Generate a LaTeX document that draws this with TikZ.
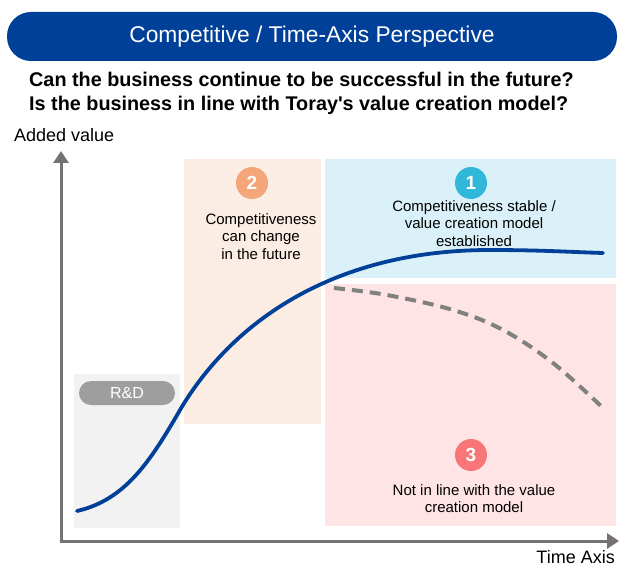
\documentclass[tikz,border=0pt]{standalone}
\usepackage{fontspec}
\setmainfont{Liberation Sans}
\newfontfamily\questfont{Liberation Sans}
\usepackage{tikz}
\usetikzlibrary{positioning, calc, arrows.meta}
\definecolor{torayBlue}{RGB}{0, 64, 152}
\definecolor{axisGray}{RGB}{118, 114, 114}
\definecolor{dashGray}{RGB}{128, 128, 128}
\definecolor{pillGray}{RGB}{158, 158, 158}
\definecolor{rdFill}{RGB}{242, 242, 242}
\definecolor{stableFill}{RGB}{218, 241, 249}
\definecolor{changeFill}{RGB}{252, 237, 228}
\definecolor{offFill}{RGB}{255, 228, 229}
\definecolor{circOne}{RGB}{49, 183, 218}
\definecolor{circTwo}{RGB}{244, 166, 122}
\definecolor{circThree}{RGB}{248, 118, 120}

\begin{document}
\begin{tikzpicture}[
    x=1pt, y=-1pt,
    badge/.style={circle, minimum size=32pt, inner sep=0pt, text=white,
                  font=\fontsize{19}{19}\selectfont\bfseries},
    zonetext/.style={anchor=north, inner sep=0pt, align=center,
                     font=\fontsize{15}{17.7}\selectfont},
    axis/.style={axisGray, line width=3pt, -{Triangle[length=12pt, width=15pt]}},
    axlabel/.style={inner sep=0pt, font=\fontsize{18}{18}\selectfont},
  ]
    \useasboundingbox (0,0) rectangle (626,569);

    % Title banner
    \node[fill=torayBlue, rounded corners=24pt, minimum width=610pt,
          minimum height=49pt, text=white, font=\fontsize{22.8}{22.8}\selectfont]
          (TITLE) at (312,36.5) {Competitive / Time-Axis Perspective};

    % Questions
    \node[anchor=north west, inner sep=0pt, align=left,
          font=\questfont\fontsize{19.8}{24}\selectfont\bfseries] (QUEST) at (29,71.8)
          {Can the business continue to be successful in the future?\\
           Is the business in line with Toray's value creation model?};

    % Zones
    \fill[rdFill] (74,374) rectangle (180,528);
    \fill[changeFill] (184,159) rectangle (321,424);
    \fill[stableFill] (325,159) rectangle (616,278);
    \fill[offFill] (325,284) rectangle (616,526);

    % R&D pill
    \node[fill=pillGray, rounded corners=12pt, minimum width=96pt,
          minimum height=24pt, inner sep=0pt, text=white,
          font=\fontsize{16}{16}\selectfont] (RD) at (127,393) {R\&D};

    % Badges and zone texts
    \node[badge, fill=circTwo] (B2) at (252,183) {2};
    \node[zonetext] (T2) at (261,213)
         {Competitiveness\\can change\\in the future};
    \node[badge, fill=circOne] (B1) at (471,183) {1};
    \node[zonetext] (T1) at (474,200)
         {Competitiveness stable /\\value creation model\\established};
    \node[badge, fill=circThree] (B3) at (471,455) {3};
    \node[zonetext] (T3) at (474,484)
         {Not in line with the value\\creation model};

    % Axes
    \coordinate (ORIG) at (61,541);
    \coordinate (YTIP) at (61,151);
    \coordinate (XTIP) at (619,541);
    \draw[axis] ($(ORIG)+(0,1.5)$) -- (YTIP);
    \draw[axis] ($(ORIG)+(-1.5,0)$) -- (XTIP);
    \node[axlabel, anchor=base west] (YLAB) at (14,142) {Added value};
    \node[axlabel, anchor=base east] (XLAB) at (615,563) {Time Axis};

    % Curves
    \draw[torayBlue, line width=3.8pt, line cap=round]
         (77,511) .. controls (125,500) and (150,462) .. (180,410)
         .. controls (230,325) and (330,250) .. (490,250)
         .. controls (540,250) and (570,252) .. (603,253);
    \draw[dashGray, line width=4pt, dash pattern=on 11pt off 7pt] plot[smooth, tension=0.6]
         coordinates {(334,288) (387,295) (453,310) (503,330) (553,363) (602,407)};
  \end{tikzpicture}
\end{document}
